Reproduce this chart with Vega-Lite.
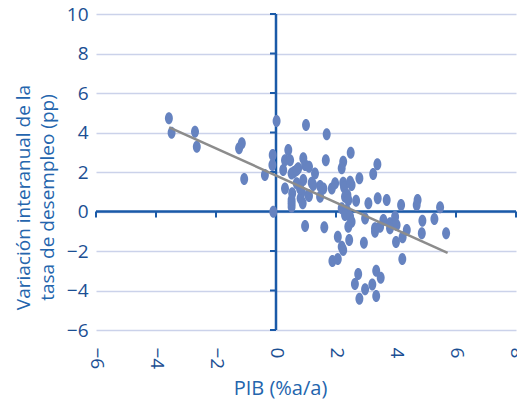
{
  "$schema": "https://vega.github.io/schema/vega-lite/v6.json",
  "width": 420,
  "height": 316,
  "autosize": "none",
  "padding": {"left": 96, "top": 14, "right": 1, "bottom": 73},
  "background": "white",
  "config": {"view": {"stroke": null}, "font": "Open Sans"},
  "datasets": {
    "pts": [
      {"pib": -3.57, "desempleo": 4.72}, {"pib": -3.48, "desempleo": 3.99}, {"pib": -2.7, "desempleo": 4.04}, {"pib": -2.64, "desempleo": 3.28},
      {"pib": -1.23, "desempleo": 3.2}, {"pib": -1.14, "desempleo": 3.45}, {"pib": -1.06, "desempleo": 1.65}, {"pib": -0.37, "desempleo": 1.85},
      {"pib": 0.02, "desempleo": 4.58}, {"pib": -0.11, "desempleo": 2.86}, {"pib": -0.12, "desempleo": 2.35}, {"pib": -0.09, "desempleo": -0.01},
      {"pib": 0.24, "desempleo": 2.1}, {"pib": 0.3, "desempleo": 2.6}, {"pib": 0.41, "desempleo": 3.11}, {"pib": 0.47, "desempleo": 2.6},
      {"pib": 0.6, "desempleo": 2.0}, {"pib": 0.3, "desempleo": 1.17}, {"pib": 0.54, "desempleo": 0.92}, {"pib": 0.52, "desempleo": 0.42},
      {"pib": 0.52, "desempleo": 0.24}, {"pib": 0.52, "desempleo": 0.58}, {"pib": 0.82, "desempleo": 0.67}, {"pib": 0.86, "desempleo": 1.0},
      {"pib": 0.69, "desempleo": 1.43}, {"pib": 1.08, "desempleo": 0.84}, {"pib": 0.89, "desempleo": 0.42}, {"pib": 1.1, "desempleo": 0.78},
      {"pib": 0.91, "desempleo": 2.69}, {"pib": 0.97, "desempleo": 2.35}, {"pib": 0.74, "desempleo": 2.19}, {"pib": 1.1, "desempleo": 2.27},
      {"pib": 1.3, "desempleo": 1.93}, {"pib": 0.91, "desempleo": 1.6}, {"pib": 1.19, "desempleo": 1.46}, {"pib": 1.47, "desempleo": 1.29},
      {"pib": 1.58, "desempleo": 1.17}, {"pib": 1.86, "desempleo": 1.17}, {"pib": 1.97, "desempleo": 1.43}, {"pib": 1.24, "desempleo": 1.34},
      {"pib": 0.8, "desempleo": 1.17}, {"pib": 1.47, "desempleo": 0.75}, {"pib": 0.52, "desempleo": 1.93}, {"pib": 0.69, "desempleo": 2.1},
      {"pib": 1.0, "desempleo": 4.38}, {"pib": 1.69, "desempleo": 3.91}, {"pib": 1.66, "desempleo": 2.6},
      {"pib": 0.97, "desempleo": -0.73}, {"pib": 1.61, "desempleo": -0.8},
      {"pib": 2.49, "desempleo": 2.98}, {"pib": 2.24, "desempleo": 2.52}, {"pib": 2.19, "desempleo": 2.19}, {"pib": 3.38, "desempleo": 2.39},
      {"pib": 3.24, "desempleo": 1.9}, {"pib": 2.78, "desempleo": 1.68}, {"pib": 2.24, "desempleo": 1.46}, {"pib": 2.27, "desempleo": 1.23},
      {"pib": 2.52, "desempleo": 1.34}, {"pib": 2.47, "desempleo": 1.51},
      {"pib": 2.38, "desempleo": 0.84}, {"pib": 2.3, "desempleo": 0.75}, {"pib": 2.41, "desempleo": 0.58}, {"pib": 2.67, "desempleo": 0.55},
      {"pib": 3.08, "desempleo": 0.42}, {"pib": 3.39, "desempleo": 0.67}, {"pib": 3.69, "desempleo": 0.58}, {"pib": 4.17, "desempleo": 0.33},
      {"pib": 4.72, "desempleo": 0.58}, {"pib": 4.69, "desempleo": 0.33}, {"pib": 5.47, "desempleo": 0.21}, {"pib": 2.19, "desempleo": 0.16},
      {"pib": 2.36, "desempleo": 0.08}, {"pib": 2.3, "desempleo": -0.18}, {"pib": 2.47, "desempleo": -0.26}, {"pib": 2.52, "desempleo": -0.52},
      {"pib": 2.41, "desempleo": -0.77}, {"pib": 2.97, "desempleo": -0.35}, {"pib": 3.58, "desempleo": -0.43}, {"pib": 3.8, "desempleo": -0.6},
      {"pib": 3.97, "desempleo": -0.26}, {"pib": 4.02, "desempleo": -0.68}, {"pib": 3.3, "desempleo": -0.85}, {"pib": 3.47, "desempleo": -0.77},
      {"pib": 4.36, "desempleo": -0.94}, {"pib": 4.88, "desempleo": -0.47}, {"pib": 4.86, "desempleo": -1.1}, {"pib": 5.28, "desempleo": -0.38},
      {"pib": 5.67, "desempleo": -1.1}, {"pib": 3.3, "desempleo": -1.02}, {"pib": 3.8, "desempleo": -0.85},
      {"pib": 2.06, "desempleo": -1.28}, {"pib": 2.44, "desempleo": -1.44}, {"pib": 2.93, "desempleo": -1.58}, {"pib": 4.0, "desempleo": -1.55},
      {"pib": 4.22, "desempleo": -1.31}, {"pib": 2.19, "desempleo": -1.78}, {"pib": 2.24, "desempleo": -1.95},
      {"pib": 1.88, "desempleo": -2.51}, {"pib": 2.06, "desempleo": -2.41}, {"pib": 4.21, "desempleo": -2.41},
      {"pib": 2.74, "desempleo": -3.16}, {"pib": 2.63, "desempleo": -3.67}, {"pib": 2.97, "desempleo": -3.94}, {"pib": 3.21, "desempleo": -3.69},
      {"pib": 3.34, "desempleo": -3.0}, {"pib": 3.49, "desempleo": -3.35}, {"pib": 2.78, "desempleo": -4.42}, {"pib": 3.34, "desempleo": -4.28}
    ],
    "trend": [
      {"pib": -3.56, "desempleo": 4.26},
      {"pib": 5.72, "desempleo": -2.09}
    ],
    "zeroV": [{"pib": 0, "desempleo": -6, "tope": 10}],
    "zeroH": [{"pib": -6, "desempleo": 0, "derecha": 8}],
    "xticks": [
      {"pib": -6, "desempleo": 0}, {"pib": -4, "desempleo": 0}, {"pib": -2, "desempleo": 0}, {"pib": 0, "desempleo": 0},
      {"pib": 2, "desempleo": 0}, {"pib": 4, "desempleo": 0}, {"pib": 6, "desempleo": 0}, {"pib": 8, "desempleo": 0}
    ],
    "yticks": [
      {"pib": 0, "desempleo": -6}, {"pib": 0, "desempleo": -4}, {"pib": 0, "desempleo": -2}, {"pib": 0, "desempleo": 0},
      {"pib": 0, "desempleo": 2}, {"pib": 0, "desempleo": 4}, {"pib": 0, "desempleo": 6}, {"pib": 0, "desempleo": 8},
      {"pib": 0, "desempleo": 10}
    ]
  },
  "layer": [
    {
      "data": {"name": "zeroV"},
      "mark": {"type": "rule", "color": "#1a5aa8", "strokeWidth": 2.5},
      "encoding": {
        "x": {
          "field": "pib", "type": "quantitative",
          "scale": {"domain": [-6, 8], "nice": false, "zero": false},
          "axis": {
            "orient": "bottom", "values": [-6, -4, -2, 0, 2, 4, 6, 8],
            "domain": false, "ticks": false, "grid": false,
            "labelAngle": 90, "labelPadding": 17, "labelFontSize": 19, "labelColor": "#1b4f93",
            "labelFlush": false,
            "title": "PIB (%a/a)", "titleFontSize": 20, "titleFontWeight": "normal", "titleColor": "#2465ad",
            "titleX": 184, "titleY": 64, "titleBaseline": "alphabetic", "titleAlign": "center"
          }
        },
        "y": {
          "field": "desempleo", "type": "quantitative",
          "scale": {"domain": [-6, 10], "nice": false, "zero": false},
          "axis": {
            "orient": "left", "values": [-6, -4, -2, 0, 2, 4, 6, 8, 10],
            "domain": false, "ticks": false, "grid": true, "gridColor": "#cbd2ea", "gridWidth": 1.5,
            "labelPadding": 8, "labelFontSize": 19, "labelColor": "#1b4f93",
            "title": ["Variación interanual de la", "tasa de desempleo (pp)"],
            "titleFontSize": 19, "titleFontWeight": "normal", "titleColor": "#2465ad",
            "titleLineHeight": 24, "titlePadding": 9, "titleY": 183
          }
        },
        "y2": {"field": "tope"}
      }
    },
    {
      "data": {"name": "zeroH"},
      "mark": {"type": "rule", "color": "#1a5aa8", "strokeWidth": 2.5},
      "encoding": {
        "x": {"field": "pib", "type": "quantitative", "axis": null},
        "x2": {"field": "derecha"},
        "y": {"field": "desempleo", "type": "quantitative", "axis": null}
      }
    },
    {
      "data": {"name": "xticks"},
      "mark": {"type": "point", "shape": "M0,0L0,1", "size": 144, "filled": false, "stroke": "#1a5aa8", "strokeWidth": 2, "opacity": 1},
      "encoding": {
        "x": {"field": "pib", "type": "quantitative", "axis": null},
        "y": {"field": "desempleo", "type": "quantitative", "axis": null}
      }
    },
    {
      "data": {"name": "yticks"},
      "mark": {"type": "point", "shape": "M0,0L-1,0", "size": 144, "filled": false, "stroke": "#1a5aa8", "strokeWidth": 2, "opacity": 1},
      "encoding": {
        "x": {"field": "pib", "type": "quantitative", "axis": null},
        "y": {"field": "desempleo", "type": "quantitative", "axis": null}
      }
    },
    {
      "data": {"name": "pts"},
      "mark": {"type": "point", "filled": true, "opacity": 1, "shape": "M0,-1A0.66,1 0 1,1 0,1A0.66,1 0 1,1 0,-1Z", "size": 144, "color": "#6683c0"},
      "encoding": {
        "x": {"field": "pib", "type": "quantitative", "axis": null},
        "y": {"field": "desempleo", "type": "quantitative", "axis": null}
      }
    },
    {
      "data": {"name": "trend"},
      "mark": {"type": "line", "color": "#8c8c8c", "strokeWidth": 2.5},
      "encoding": {
        "x": {"field": "pib", "type": "quantitative", "axis": null},
        "y": {"field": "desempleo", "type": "quantitative", "axis": null}
      }
    }
  ],
  "resolve": {"axis": {"x": "independent", "y": "independent"}}
}
